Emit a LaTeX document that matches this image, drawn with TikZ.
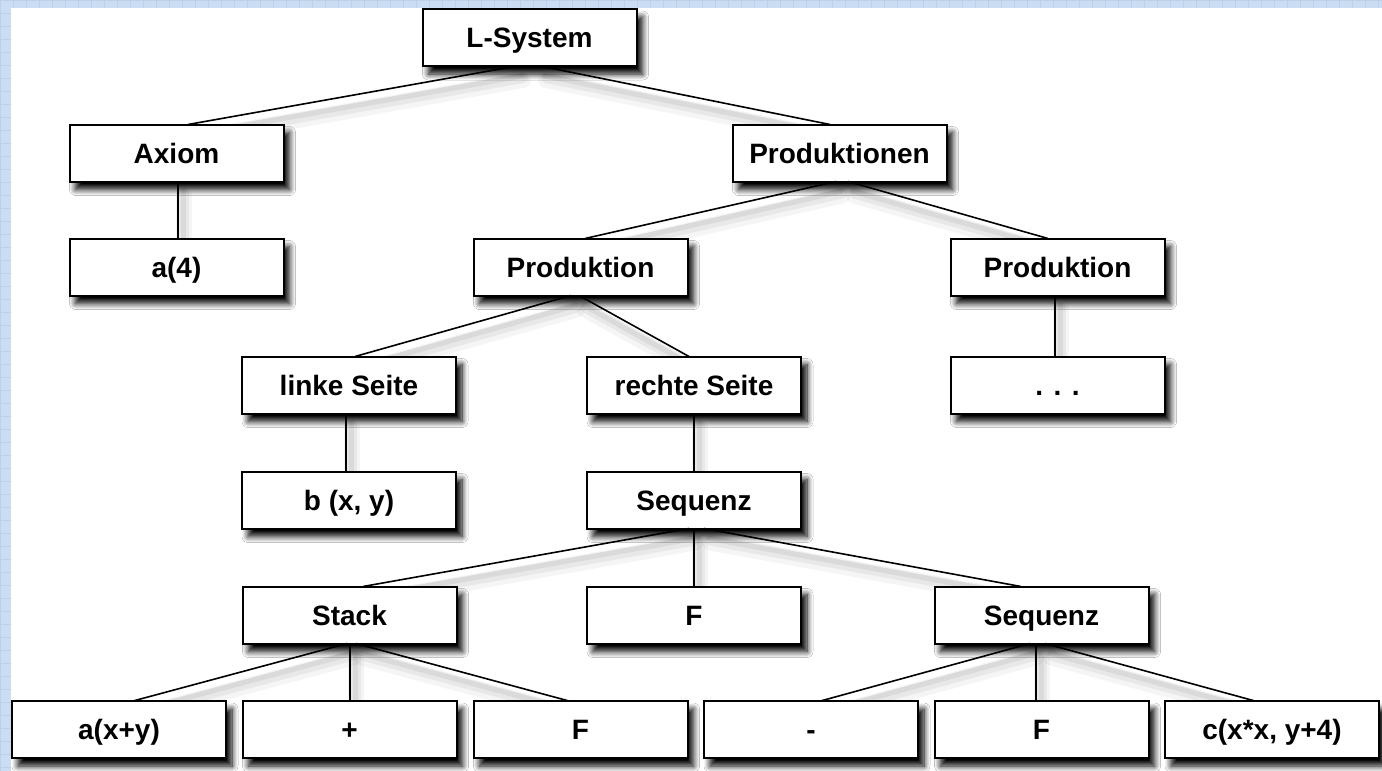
\documentclass[tikz,border=0pt]{standalone}
\usepackage{fontspec}
\setmainfont{Liberation Sans}
\usetikzlibrary{calc,shadows.blur,backgrounds}
\definecolor{gridbg}{HTML}{CADDF2}
\definecolor{gridln}{HTML}{BBD1EB}
\tikzset{
  box/.style={draw=black, line width=1pt, fill=white, rectangle,
    minimum width=107pt, minimum height=28.5pt, inner sep=0pt, outer sep=0pt,
    text height=12pt, text depth=2pt,
    font=\fontsize{14}{16}\selectfont\bfseries,
    blur shadow={shadow xshift=3pt, shadow yshift=-4pt, shadow blur radius=3pt, shadow blur steps=10, shadow opacity=100}},
  edge/.style={draw=black, line width=0.8pt},
  edgeshadowa/.style={draw=black, line width=8pt, opacity=0.04, line cap=round},
  edgeshadowb/.style={draw=black, line width=5pt, opacity=0.05, line cap=round},
  edgeshadowc/.style={draw=black, line width=2.5pt, opacity=0.06, line cap=round}
}
\begin{document}
\begin{tikzpicture}[x=0.5pt, y=-0.5pt]
\useasboundingbox (0,0) rectangle (1382,771);
% nodes
\node[box] (ls)   at (529.5,37.5) {L-System};
\node[box] (ax)   at (176.5,153) {Axiom};
\node[box] (a4)   at (176.5,267) {a(4)};
\node[box] (pn)   at (839.5,153) {Produktionen};
\node[box] (p1)   at (580.5,267) {Produktion};
\node[box] (p2)   at (1057.5,267) {Produktion};
\node[box] (lk)   at (349,385) {linke Seite};
\node[box] (rs)   at (694,385) {rechte Seite};
\node[box] (dots) at (1057.5,385) {. . .};
\node[box] (bxy)  at (349,500) {b (x, y)};
\node[box] (sq)   at (694,500) {Sequenz};
\node[box] (st)   at (349.5,615) {Stack};
\node[box] (f1)   at (694,615) {F};
\node[box] (sq2)  at (1041.5,615) {Sequenz};
\node[box] (b1)   at (119,729.5) {a(x+y)};
\node[box] (b2)   at (349.5,729.5) {+};
\node[box] (b3)   at (580.5,729.5) {F};
\node[box] (b4)   at (811,729.5) {-};
\node[box] (b5)   at (1041.5,729.5) {F};
\node[box] (b6)   at (1272,729.5) {c(x*x, y+4)};
\def\edgelist{ls/ax/-12.5/11.5, ls/pn/10.5/-9.5, ax/a4/1.5/1.5, pn/p1/-3.5/4.5, pn/p2/8.5/-9.5,
  p1/lk/-9.5/6, p1/rs/-1.5/-5, p2/dots/-2.5/-2.5, lk/bxy/-3/-3, rs/sq/0/0,
  sq/st/-5/13.5, sq/f1/0/0, sq/sq2/10/-20.5, st/b1/-2.5/14, st/b2/0.5/0.5, st/b3/6.5/-11.5,
  sq2/b4/-11.5/9.5, sq2/b5/-5.5/-5.5, sq2/b6/3.5/-17}
\begin{pgfonlayer}{background}
  \fill[gridbg] (0,0) rectangle (1382,771);
  \begin{scope}
    \clip (0,0) rectangle (1382,771);
    \foreach \i in {0,13,...,1382} \draw[gridln, line width=0.4pt] (\i,0) -- (\i,771);
    \foreach \j in {0,13,...,771} \draw[gridln, line width=0.4pt] (0,\j) -- (1382,\j);
  \end{scope}
  \fill[white] (11,7.5) rectangle (1382,771);
  \foreach \pa/\ch/\da/\db in \edgelist {
    \draw[edgeshadowa] ($(\pa.south)+(\da+6,14)$) -- ($(\ch.north)+(\db+6,14)$);
    \draw[edgeshadowb] ($(\pa.south)+(\da+6,12)$) -- ($(\ch.north)+(\db+6,12)$);
    \draw[edgeshadowc] ($(\pa.south)+(\da+5,10)$) -- ($(\ch.north)+(\db+5,10)$);
  }
\end{pgfonlayer}
\foreach \pa/\ch/\da/\db in \edgelist {
  \draw[edge] ($(\pa.south)+(\da,0)$) -- ($(\ch.north)+(\db,0)$);
}
\end{tikzpicture}
\end{document}
